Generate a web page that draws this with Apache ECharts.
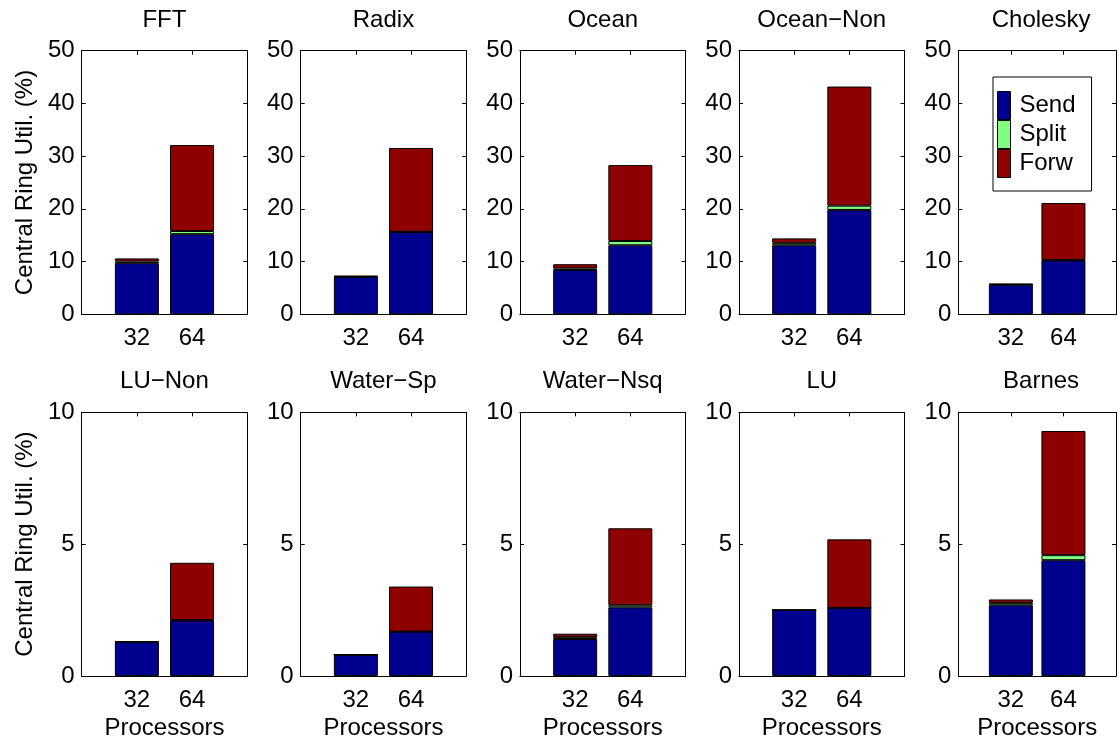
<!DOCTYPE html>
<html>
<head>
<meta charset="utf-8">
<script src="https://cdn.jsdelivr.net/npm/echarts@6/dist/echarts.min.js"></script>
<style>
html,body{margin:0;padding:0;background:#fff;}
#c{width:1119px;height:744px;}
</style>
</head>
<body>
<div id="c"></div>
<script>
// ---- data ----
const titles = ['FFT','Radix','Ocean','Ocean\u2212Non','Cholesky','LU\u2212Non','Water\u2212Sp','Water\u2212Nsq','LU','Barnes'];
const procs = ['32','64'];
const send  = [[9.7,15.2],[7.1,15.6],[8.4,13.1],[13.1,19.8],[5.6,10.2],[1.28,2.1],[0.8,1.68],[1.4,2.6],[2.5,2.58],[2.68,4.39]];
const split = [[0.3,0.6],[0.05,0.05],[0.3,0.8],[0.45,0.8],[0.05,0.1],[0.01,0.02],[0,0],[0.07,0.08],[0,0],[0.09,0.19]];
const forw  = [[0.6,16.3],[0.15,15.9],[0.8,14.4],[0.85,22.6],[0.15,10.8],[0.03,2.17],[0,1.71],[0.13,2.92],[0,2.6],[0.13,4.71]];
const yMax = [50,50,50,50,50,10,10,10,10,10];
const yInterval = [10,10,10,10,10,5,5,5,5,5];
const seriesNames = ['Send','Split','Forw'];
const colors = ['#00008F','#80FF80','#8F0000'];
const yLabelText = 'Central Ring Util. (%)';
const xLabelText = 'Processors';

// ---- layout ----
const FONT = 'Liberation Sans, Arial, Helvetica, sans-serif';
const FS = 24;
const colLeft = [81.7, 300.7, 520, 739, 958.3];
const plotW = 165.5;
const rowTop = [50.7, 412.3];
const plotH = 263.6;
const titleY = [20, 381];
// category slots: empty margin slot, the two processor counts, empty margin slot
const cats = [''].concat(procs, ['']);

const chart = echarts.init(document.getElementById('c'));
const grids = [], xAxes = [], yAxes = [], series = [], graphics = [];
const allData = [send, split, forw];

for (let i = 0; i < 10; i++) {
  const r = Math.floor(i / 5), c = i % 5;
  grids.push({left: colLeft[c], top: rowTop[r], width: plotW, height: plotH, containLabel: false});
  const xCommon = {
    type: 'category', gridIndex: i, data: cats, boundaryGap: false,
    axisLine: {show: true, onZero: false, lineStyle: {color: '#000', width: 1}},
    axisTick: {show: true, inside: true, length: 4, lineStyle: {color: '#000'}},
    splitLine: {show: false}
  };
  xAxes.push(Object.assign({}, xCommon, {
    position: 'bottom',
    axisLabel: {show: true, interval: 0, margin: 12, color: '#000', fontFamily: FONT, fontSize: FS},
    name: r === 1 ? xLabelText : '', nameLocation: 'middle', nameGap: 40,
    nameTextStyle: {color: '#000', fontFamily: FONT, fontSize: FS}
  }));
  xAxes.push(Object.assign({}, xCommon, {position: 'top', axisLabel: {show: false}}));
  const yCommon = {
    type: 'value', gridIndex: i, min: 0, max: yMax[i], interval: yInterval[i],
    axisLine: {show: true, onZero: false, lineStyle: {color: '#000', width: 1}},
    axisTick: {show: true, inside: true, length: 4, lineStyle: {color: '#000'}},
    splitLine: {show: false}
  };
  yAxes.push(Object.assign({}, yCommon, {
    position: 'left',
    axisLabel: {show: true, margin: 7, color: '#000', fontFamily: FONT, fontSize: FS},
    name: c === 0 ? yLabelText : '', nameLocation: 'middle', nameGap: 44,
    nameTextStyle: {color: '#000', fontFamily: FONT, fontSize: FS}
  }));
  yAxes.push(Object.assign({}, yCommon, {position: 'right', axisLabel: {show: false}}));

  for (let s = 0; s < 3; s++) {
    series.push({
      type: 'bar', name: seriesNames[s], xAxisIndex: 2 * i, yAxisIndex: 2 * i,
      stack: 'g' + i, barWidth: 44,
      itemStyle: {color: colors[s], borderColor: '#000', borderWidth: 1},
      emphasis: {disabled: true},
      data: ['-'].concat(allData[s][i], ['-'])
    });
  }
  graphics.push({
    type: 'text', x: colLeft[c] + plotW / 2, y: titleY[r],
    style: {text: titles[i], fill: '#000', font: FS + 'px ' + FONT, textAlign: 'center', textVerticalAlign: 'middle'}
  });
}

chart.setOption({
  animation: false,
  grid: grids,
  xAxis: xAxes,
  yAxis: yAxes,
  series: series,
  graphic: graphics,
  legend: {
    data: seriesNames, orient: 'vertical', left: 993, top: 77,
    itemWidth: 13, itemHeight: 28, itemGap: 0, icon: 'rect',
    padding: [14, 16, 13, 4], borderColor: '#000', borderWidth: 1,
    selectedMode: false,
    itemStyle: {borderColor: '#000', borderWidth: 1},
    textStyle: {color: '#000', fontFamily: FONT, fontSize: FS, padding: [0, 0, 0, 4]}
  }
});
</script>
</body>
</html>
